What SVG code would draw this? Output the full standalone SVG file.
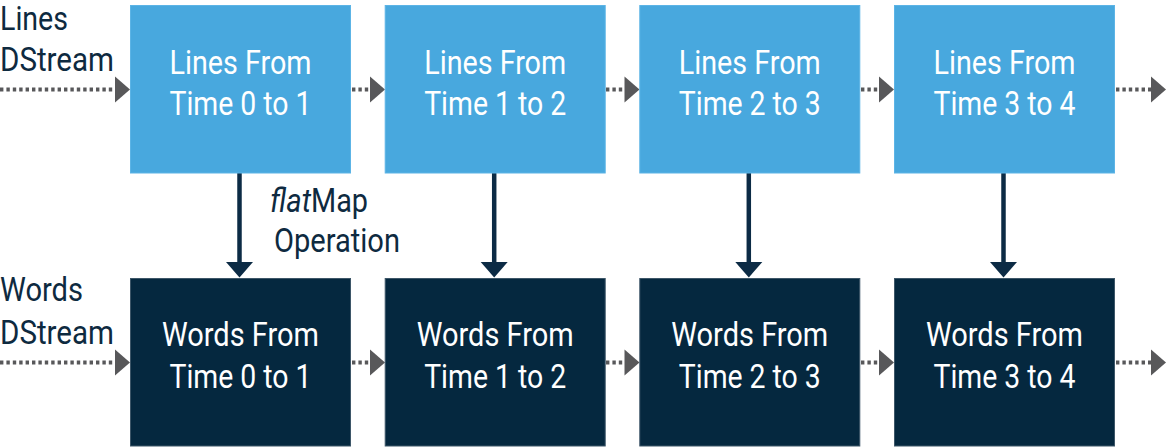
<svg xmlns="http://www.w3.org/2000/svg" width="1166" height="447" viewBox="0 0 1166 447">
<defs>
<style>
.top{fill:#48a8de;stroke:#5cb4e6;stroke-width:1}
.bot{fill:#05283f;stroke:#3d5668;stroke-width:1}
.bt{font-family:Roboto,"Liberation Sans",sans-serif;font-size:33px;fill:#ffffff;text-anchor:middle}
.lb{font-family:Roboto,"Liberation Sans",sans-serif;font-size:33px;fill:#0e2a40}
.dot{stroke:#58585a;stroke-width:3.8;stroke-dasharray:3.4 3;fill:none}
.ah{fill:#58585a}
.vl{stroke:#0c2b45;stroke-width:4.5}
.vh{fill:#0c2b45}
</style>
</defs>
<rect width="1166" height="447" fill="#ffffff"/>
<g id="labels">
<text class="lb" x="0" y="29.5" textLength="68" lengthAdjust="spacingAndGlyphs">Lines</text>
<text class="lb" x="0" y="71" textLength="114" lengthAdjust="spacingAndGlyphs">DStream</text>
<text class="lb" x="0" y="301" textLength="83" lengthAdjust="spacingAndGlyphs">Words</text>
<text class="lb" x="0" y="343.5" textLength="114" lengthAdjust="spacingAndGlyphs">DStream</text>
<text class="lb" x="270" y="212" font-style="italic" textLength="41" lengthAdjust="spacingAndGlyphs">flat</text>
<text class="lb" x="311" y="212" textLength="57" lengthAdjust="spacingAndGlyphs">Map</text>
<text class="lb" x="274" y="252" textLength="126" lengthAdjust="spacingAndGlyphs">Operation</text>
</g>
<g id="connectors">
<line class="dot" x1="0" y1="89.5" x2="115" y2="89.5"/>
<polygon class="ah" points="115,76.5 130,89.5 115,102.5"/>
<line class="dot" x1="352" y1="89.5" x2="370" y2="89.5"/>
<polygon class="ah" points="370,76.5 385,89.5 370,102.5"/>
<line class="dot" x1="606" y1="89.5" x2="624.5" y2="89.5"/>
<polygon class="ah" points="624.5,76.5 639.5,89.5 624.5,102.5"/>
<line class="dot" x1="861" y1="89.5" x2="879" y2="89.5"/>
<polygon class="ah" points="879,76.5 894,89.5 879,102.5"/>
<line class="dot" x1="1116" y1="89.5" x2="1151" y2="89.5"/>
<polygon class="ah" points="1151,76.5 1166,89.5 1151,102.5"/>
<line class="dot" x1="0" y1="362.5" x2="115" y2="362.5"/>
<polygon class="ah" points="115,349.5 130,362.5 115,375.5"/>
<line class="dot" x1="352" y1="362.5" x2="370" y2="362.5"/>
<polygon class="ah" points="370,349.5 385,362.5 370,375.5"/>
<line class="dot" x1="606" y1="362.5" x2="624.5" y2="362.5"/>
<polygon class="ah" points="624.5,349.5 639.5,362.5 624.5,375.5"/>
<line class="dot" x1="861" y1="362.5" x2="879" y2="362.5"/>
<polygon class="ah" points="879,349.5 894,362.5 879,375.5"/>
<line class="dot" x1="1116" y1="362.5" x2="1151" y2="362.5"/>
<polygon class="ah" points="1151,349.5 1166,362.5 1151,375.5"/>
<line class="vl" x1="239.5" y1="173" x2="239.5" y2="264"/>
<polygon class="vh" points="226,262 253,262 239.5,277.5"/>
<line class="vl" x1="494.2" y1="173" x2="494.2" y2="264"/>
<polygon class="vh" points="480.7,262 507.7,262 494.2,277.5"/>
<line class="vl" x1="748.8" y1="173" x2="748.8" y2="264"/>
<polygon class="vh" points="735.3,262 762.3,262 748.8,277.5"/>
<line class="vl" x1="1003.5" y1="173" x2="1003.5" y2="264"/>
<polygon class="vh" points="990,262 1017,262 1003.5,277.5"/>
</g>
<g id="lines0"><rect class="top" x="130.5" y="5.5" width="220" height="167.5"/><text class="bt" x="240.5" y="73.5" textLength="142" lengthAdjust="spacingAndGlyphs">Lines From</text><text class="bt" x="240.5" y="115" textLength="142" lengthAdjust="spacingAndGlyphs">Time 0 to 1</text></g>
<g id="lines1"><rect class="top" x="385.2" y="5.5" width="220" height="167.5"/><text class="bt" x="495.2" y="73.5" textLength="142" lengthAdjust="spacingAndGlyphs">Lines From</text><text class="bt" x="495.2" y="115" textLength="142" lengthAdjust="spacingAndGlyphs">Time 1 to 2</text></g>
<g id="lines2"><rect class="top" x="639.8" y="5.5" width="220" height="167.5"/><text class="bt" x="749.8" y="73.5" textLength="142" lengthAdjust="spacingAndGlyphs">Lines From</text><text class="bt" x="749.8" y="115" textLength="142" lengthAdjust="spacingAndGlyphs">Time 2 to 3</text></g>
<g id="lines3"><rect class="top" x="894.5" y="5.5" width="220" height="167.5"/><text class="bt" x="1004.5" y="73.5" textLength="142" lengthAdjust="spacingAndGlyphs">Lines From</text><text class="bt" x="1004.5" y="115" textLength="142" lengthAdjust="spacingAndGlyphs">Time 3 to 4</text></g>
<g id="words0"><rect class="bot" x="130.5" y="278.5" width="220" height="167.5"/><text class="bt" x="240.5" y="346" textLength="157" lengthAdjust="spacingAndGlyphs">Words From</text><text class="bt" x="240.5" y="388" textLength="142" lengthAdjust="spacingAndGlyphs">Time 0 to 1</text></g>
<g id="words1"><rect class="bot" x="385.2" y="278.5" width="220" height="167.5"/><text class="bt" x="495.2" y="346" textLength="157" lengthAdjust="spacingAndGlyphs">Words From</text><text class="bt" x="495.2" y="388" textLength="142" lengthAdjust="spacingAndGlyphs">Time 1 to 2</text></g>
<g id="words2"><rect class="bot" x="639.8" y="278.5" width="220" height="167.5"/><text class="bt" x="749.8" y="346" textLength="157" lengthAdjust="spacingAndGlyphs">Words From</text><text class="bt" x="749.8" y="388" textLength="142" lengthAdjust="spacingAndGlyphs">Time 2 to 3</text></g>
<g id="words3"><rect class="bot" x="894.5" y="278.5" width="220" height="167.5"/><text class="bt" x="1004.5" y="346" textLength="157" lengthAdjust="spacingAndGlyphs">Words From</text><text class="bt" x="1004.5" y="388" textLength="142" lengthAdjust="spacingAndGlyphs">Time 3 to 4</text></g>
</svg>
